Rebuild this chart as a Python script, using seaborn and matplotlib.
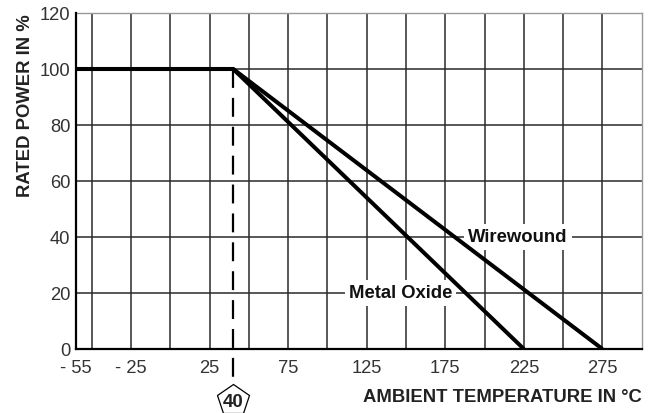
import matplotlib
matplotlib.use("Agg")
import matplotlib.pyplot as plt
import seaborn as sns
import pandas as pd

# Data
mo_temp = [-60, 40, 225]
mo_power = [100, 100, 0]
ww_temp = [-60, 40, 275]
ww_power = [100, 100, 0]
x_tick_pos = [-60, -25, 25, 75, 125, 175, 225, 275]
x_tick_labels = ["- 55", "- 25", "25", "75", "125", "175", "225", "275"]
x_grid_minor = [-50, 0, 50, 100, 150, 200, 250]
y_ticks = [0, 20, 40, 60, 80, 100, 120]
knee_temp = 40

sns.set_theme(style="white")
plt.rcParams['font.family'] = ['Liberation Sans', 'DejaVu Sans']

fig = plt.figure(figsize=(6.55, 4.14), dpi=100)
ax = fig.add_axes([76/655, 64/414, (641.7-76)/655, (350-14)/414])

df = pd.concat([
    pd.DataFrame({"temp": mo_temp, "power": mo_power, "series": "Metal Oxide"}),
    pd.DataFrame({"temp": ww_temp, "power": ww_power, "series": "Wirewound"}),
])
for name, g in df.groupby("series"):
    sns.lineplot(data=g, x="temp", y="power", ax=ax, color="black", lw=2.9,
                 sort=False, estimator=None, legend=False, zorder=5,
                 solid_capstyle="butt", solid_joinstyle="miter")

# dashed knee line extending below the axis
ax.plot([knee_temp, knee_temp], [100, -10], color="black", lw=1.6,
        linestyle=(0, (8.5, 4.5)), clip_on=False, zorder=4)
ax.plot([knee_temp], [-18.2], marker="p", markersize=23.5, markerfacecolor="white",
        markeredgecolor="black", markeredgewidth=0.9, clip_on=False, zorder=6)
ax.text(knee_temp, -18.8, "40", ha="center", va="center", fontsize=13.5,
        fontweight="bold", color="#222222", clip_on=False, zorder=7)

ax.set_xlim(-60, 300)
ax.set_ylim(0, 120)
ax.set_xticks(x_tick_pos)
ax.set_xticklabels(x_tick_labels)
ax.set_xticks(x_grid_minor, minor=True)
ax.set_yticks(y_ticks)
ax.grid(True, which="both", color="#2a2a2a", lw=1.1)
ax.tick_params(axis="both", which="both", length=0, labelsize=13.2,
               labelcolor="#333333")
ax.tick_params(axis="x", pad=7.5)
ax.tick_params(axis="y", pad=4)

for side in ["left", "bottom"]:
    ax.spines[side].set_color("black")
    ax.spines[side].set_linewidth(1.6)
    ax.spines[side].set_zorder(3)
for side in ["top", "right"]:
    ax.spines[side].set_color("#999999")
    ax.spines[side].set_linewidth(1.0)
    ax.spines[side].set_visible(True)

ax.set_xlabel("AMBIENT TEMPERATURE IN °C", fontsize=13.3, fontweight="bold",
              color="#222222", loc="right", labelpad=8.5)
ax.set_ylabel("RATED POWER IN %", fontsize=13.3, fontweight="bold",
              color="#222222", loc="top", labelpad=4.5)

bbox = dict(facecolor="white", edgecolor="none", pad=3)
ax.text(221, 40, "Wirewound", ha="center", va="center", fontsize=13.3,
        fontweight="bold", color="#111111", bbox=bbox, zorder=4)
ax.text(146.5, 20, "Metal Oxide", ha="center", va="center", fontsize=13.3,
        fontweight="bold", color="#111111", bbox=bbox, zorder=4)

fig.savefig("out.png", dpi=100)
